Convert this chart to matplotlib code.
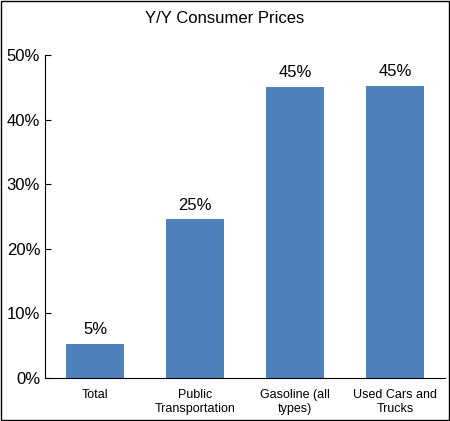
import matplotlib.pyplot as plt
from matplotlib.ticker import FuncFormatter

plt.rcParams["font.family"] = ["Liberation Sans", "DejaVu Sans"]

categories = ["Total", "Public\nTransportation", "Gasoline (all\ntypes)", "Used Cars and\nTrucks"]
values = [5.3, 24.6, 45.1, 45.3]
labels = ["5%", "25%", "45%", "45%"]

fig = plt.figure(figsize=(4.5, 4.21), dpi=100)
ax = fig.add_axes([0.1, 0.102, 0.889, 0.767])
x = range(len(categories))
ax.bar(x, values, width=0.58, color="#4F81BD")
for xi, v, lab in zip(x, values, labels):
    ax.text(xi, v + 1, lab, ha="center", va="bottom", fontsize=12)

ax.set_ylim(0, 50)
ax.set_xlim(-0.5, 3.5)
ax.set_yticks(range(0, 51, 10))
ax.yaxis.set_major_formatter(FuncFormatter(lambda v, p: f"{v:.0f}%"))
ax.tick_params(axis="y", labelsize=12, direction="in", length=4)
ax.set_xticks(list(x))
ax.set_xticklabels(categories, fontsize=9)
ax.tick_params(axis="x", length=0, pad=8)
for s in ["top", "right"]:
    ax.spines[s].set_visible(False)

fig.text(0.5, 0.955, "Y/Y Consumer Prices", ha="center", va="center", fontsize=12)
fig.patches.append(plt.Rectangle((0.002, 0.002), 0.996, 0.996, transform=fig.transFigure,
                                 fill=False, edgecolor="black", linewidth=1))
plt.savefig("out.png", dpi=100)
